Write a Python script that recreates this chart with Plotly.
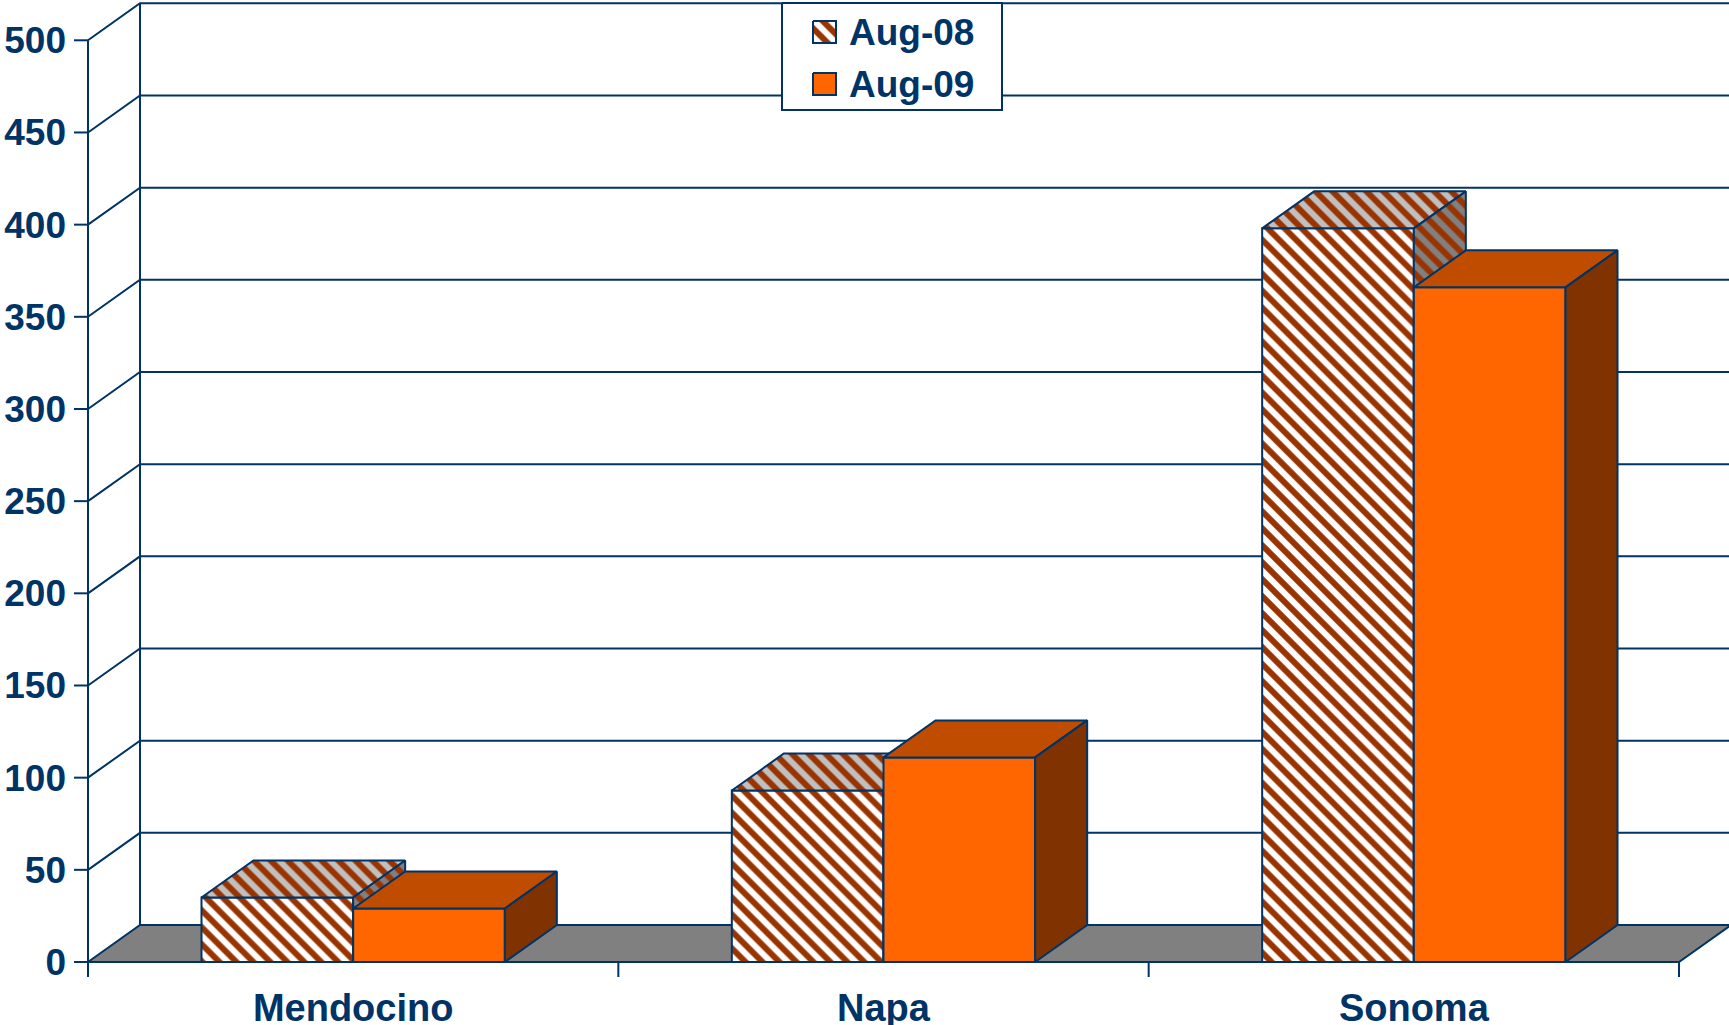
import plotly.graph_objects as go

# ---- data ----
counties = ["Mendocino", "Napa", "Sonoma"]
series_names = ["Aug-08", "Aug-09"]
aug08 = [35, 93, 398]
aug09 = [29, 111, 366]
y_ticks = [0, 50, 100, 150, 200, 250, 300, 350, 400, 450, 500]

# ---- styling ----
NAVY = "#003366"
BROWN = "#993300"
ORANGE = "#FF6600"
ORANGE_TOP = "#C04C00"
ORANGE_SIDE = "#803300"
GRAY_TOP = "#C0C0C0"
GRAY_SIDE = "#808080"
FLOOR = "#808080"
FONT = "Liberation Sans, Arial, sans-serif"
LW = 2

W, H = 1729, 1025
# pixel geometry of the value scale
X0_PX, X3_PX = 88, 1679          # category axis from 0 to 3
Y0_PX, Y500_PX = 962, 40.3       # value axis from 0 to 500
PPX = (X3_PX - X0_PX) / 3.0
PPY = (Y0_PX - Y500_PX) / 500.0
DEPTH_X = 52 / PPX               # oblique depth offset in x units
DEPTH_Y = 37 / PPY               # oblique depth offset in value units
LEFT_PX, BOTTOM_PX = 72, 980     # plot area edges

x_lo = -(X0_PX - LEFT_PX) / PPX
x_hi = (W - X0_PX) / PPX
y_lo = -(BOTTOM_PX - Y0_PX) / PPY
y_hi = Y0_PX / PPY

GROUP_W = 0.572
BAR_W = GROUP_W / 2

fig = go.Figure()


def poly(xs, ys, fill, pattern=None, xaxis="x", yaxis="y"):
    kw = dict(
        x=list(xs) + [xs[0]], y=list(ys) + [ys[0]],
        mode="lines", fill="toself", fillcolor=fill,
        line=dict(color=NAVY, width=LW),
        hoverinfo="skip", showlegend=False, xaxis=xaxis, yaxis=yaxis,
    )
    if pattern is not None:
        kw["fillpattern"] = pattern
    fig.add_trace(go.Scatter(**kw))


def hatch(bg):
    return dict(shape="\\", fgcolor=BROWN, bgcolor=bg, size=12,
                solidity=0.5, fillmode="replace")


# gridlines: front-left diagonal, then along the back wall
gx, gy = [], []
for v in y_ticks[1:]:
    gx += [0, DEPTH_X, x_hi + 0.1, None]
    gy += [v, v + DEPTH_Y, v + DEPTH_Y, None]
# back wall left edge and front value axis line
gx += [DEPTH_X, DEPTH_X, None, 0, 0, None]
gy += [DEPTH_Y, y_ticks[-1] + DEPTH_Y, None, 0, y_ticks[-1], None]
# value axis tick marks
for v in y_ticks:
    gx += [-14 / PPX, 0, None]
    gy += [v, v, None]
# category axis tick marks at the boundaries
for k in range(len(counties) + 1):
    gx += [k, k, None]
    gy += [0, -15 / PPY, None]
fig.add_trace(go.Scatter(x=gx, y=gy, mode="lines",
                         line=dict(color=NAVY, width=LW),
                         hoverinfo="skip", showlegend=False))

# floor
n = len(counties)
poly([0, n, n + DEPTH_X, DEPTH_X], [0, 0, DEPTH_Y, DEPTH_Y], FLOOR)

# bars: front, top and side faces, painted left to right
for i in range(n):
    c = i + 0.5
    for j, (vals, front, top, side) in enumerate([
        (aug08, hatch("white"), hatch(GRAY_TOP), hatch(GRAY_SIDE)),
        (aug09, ORANGE, ORANGE_TOP, ORANGE_SIDE),
    ]):
        v = vals[i]
        x0 = c - BAR_W + j * BAR_W
        x1 = x0 + BAR_W
        if isinstance(front, dict):
            poly([x0, x1, x1, x0], [0, 0, v, v], "white", front)
            poly([x0, x1, x1 + DEPTH_X, x0 + DEPTH_X],
                 [v, v, v + DEPTH_Y, v + DEPTH_Y], GRAY_TOP, top)
            poly([x1, x1 + DEPTH_X, x1 + DEPTH_X, x1],
                 [0, DEPTH_Y, v + DEPTH_Y, v], GRAY_SIDE, side)
        else:
            poly([x0, x1, x1, x0], [0, 0, v, v], front)
            poly([x0, x1, x1 + DEPTH_X, x0 + DEPTH_X],
                 [v, v, v + DEPTH_Y, v + DEPTH_Y], top)
            poly([x1, x1 + DEPTH_X, x1 + DEPTH_X, x1],
                 [0, DEPTH_Y, v + DEPTH_Y, v], side)

# legend (drawn on an overlay pixel axis)
LB = dict(x0=782, x1=1002, y0=3, y1=110)
poly([LB["x0"], LB["x1"], LB["x1"], LB["x0"]],
     [LB["y0"], LB["y0"], LB["y1"], LB["y1"]], "white",
     xaxis="x2", yaxis="y2")
legend_rows = [21, 73]
swatches = [hatch("white"), ORANGE]
annotations = []
for name, top_y, sw in zip(series_names, legend_rows, swatches):
    sx = [813, 836, 836, 813]
    sy = [top_y, top_y, top_y + 22, top_y + 22]
    if isinstance(sw, dict):
        poly(sx, sy, "white", sw, xaxis="x2", yaxis="y2")
    else:
        poly(sx, sy, sw, xaxis="x2", yaxis="y2")
    annotations.append(dict(
        x=847, y=top_y + 11, xref="x2", yref="y2", text=name,
        showarrow=False, xanchor="left", yanchor="middle",
        font=dict(family=FONT, size=37, color=NAVY, weight="bold"),
    ))

tick_font = dict(family=FONT, size=37, color=NAVY, weight="bold")
cat_font = dict(family=FONT, size=38, color=NAVY, weight="bold")
fig.update_layout(
    width=W, height=H,
    margin=dict(l=LEFT_PX, r=0, t=0, b=H - BOTTOM_PX, pad=0),
    paper_bgcolor="white", plot_bgcolor="white",
    showlegend=False,
    xaxis=dict(range=[x_lo, x_hi], showgrid=False, zeroline=False,
               showline=False, ticks="", automargin=False,
               tickvals=[i + 0.5 for i in range(n)], ticktext=counties,
               tickfont=cat_font, ticklabelstandoff=2, fixedrange=True),
    yaxis=dict(range=[y_lo, y_hi], showgrid=False, zeroline=False,
               showline=False, ticks="", automargin=False,
               tickvals=y_ticks, tickfont=tick_font,
               ticklabelstandoff=5, fixedrange=True),
    xaxis2=dict(range=[LEFT_PX, W], overlaying="x", visible=False,
                fixedrange=True),
    yaxis2=dict(range=[BOTTOM_PX, 0], overlaying="y", visible=False,
                fixedrange=True),
    annotations=annotations,
)

fig.write_html("out.html")
